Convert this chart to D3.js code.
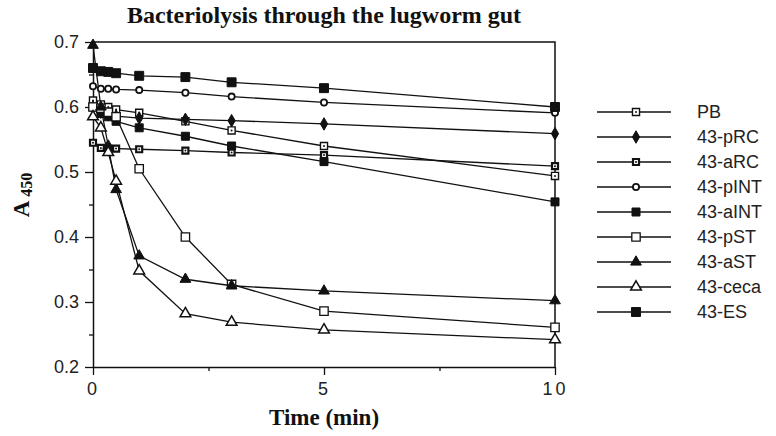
<!DOCTYPE html>
<html>
<head>
<meta charset="utf-8">
<script src="https://cdn.jsdelivr.net/npm/d3@7"></script>
<style>
  body { margin: 0; background: #fff; }
  svg { display: block; }
</style>
</head>
<body>
<div id="chart"></div>
<script>
// Data (time in min, A450)
var time = [0, 0.17, 0.33, 0.5, 1, 2, 3, 5, 10];
var PB   = [0.610, 0.604, 0.600, 0.596, 0.591, 0.578, 0.564, 0.540, 0.494];
var pRC  = [0.600, 0.592, 0.588, 0.586, 0.583, 0.581, 0.579, 0.574, 0.559];
var aRC  = [0.545, 0.537, 0.536, 0.536, 0.535, 0.533, 0.530, 0.526, 0.509];
var pINT = [0.632, 0.628, 0.628, 0.627, 0.626, 0.622, 0.616, 0.607, 0.591];
var aINT = [0.600, 0.590, 0.585, 0.578, 0.568, 0.555, 0.540, 0.516, 0.454];
var pST  = [0.600, 0.598, 0.592, 0.585, 0.505, 0.400, 0.327, 0.286, 0.261];
var aST  = [0.695, 0.600, 0.540, 0.473, 0.371, 0.335, 0.325, 0.317, 0.302];
var ceca = [0.585, 0.568, 0.530, 0.486, 0.348, 0.282, 0.269, 0.257, 0.242];
var ES   = [0.660, 0.655, 0.654, 0.652, 0.648, 0.646, 0.638, 0.629, 0.600];

var seriesNames = ["PB", "43-pRC", "43-aRC", "43-pINT", "43-aINT", "43-pST", "43-aST", "43-ceca", "43-ES"];
var seriesValues = [PB, pRC, aRC, pINT, aINT, pST, aST, ceca, ES];
var xTicks = [0, 5, 10];
var xMinor = [2.5, 7.5];
var yTicks = [0.2, 0.3, 0.4, 0.5, 0.6, 0.7];
var yMinor = [0.25, 0.35, 0.45, 0.55, 0.65];

// marker style per series
var markers = [
  {shape: d3.symbolSquare,   size: 50, fill: "#fff", sw: 1.4, dot: true},   // PB
  {shape: d3.symbolDiamond,  size: 45, fill: "#111", sw: 1,   dot: false},  // pRC
  {shape: d3.symbolSquare,   size: 36, fill: "#fff", sw: 2.2, dot: true},   // aRC
  {shape: d3.symbolCircle,   size: 30, fill: "#fff", sw: 1.8, dot: false},  // pINT
  {shape: d3.symbolSquare,   size: 64, fill: "#111", sw: 1,   dot: false},  // aINT
  {shape: d3.symbolSquare,   size: 70, fill: "#fff", sw: 1.3, dot: false},  // pST
  {shape: d3.symbolTriangle, size: 50, fill: "#111", sw: 1,   dot: false},  // aST
  {shape: d3.symbolTriangle, size: 50, fill: "#fff", sw: 1.5, dot: false},  // ceca
  {shape: d3.symbolSquare,   size: 80, fill: "#111", sw: 1,   dot: false}   // ES
];

var margin = {top: 42, left: 93},
    width = 462,
    height = 325;

var svg = d3.select("#chart").append("svg")
    .attr("width", 776)
    .attr("height", 436);

var g = svg.append("g")
    .attr("transform", "translate(" + margin.left + "," + margin.top + ")");

var x = d3.scaleLinear().domain([0, 10]).range([0, width]);
var y = d3.scaleLinear().domain([0.2, 0.7]).range([height, 0]);

// Title
svg.append("text")
    .attr("x", margin.left + width / 2)
    .attr("y", 23)
    .attr("text-anchor", "middle")
    .style("font-family", "'Liberation Serif', 'Times New Roman', serif")
    .style("font-weight", "bold")
    .style("font-size", "24px")
    .attr("fill", "#111")
    .text("Bacteriolysis through the lugworm gut");

// frame (top and right)
g.append("path")
    .attr("d", "M0,0H" + width + "V" + height)
    .attr("fill", "none")
    .attr("stroke", "#111")
    .attr("stroke-width", 1.5);

// x axis
var xAxis = g.append("g")
    .attr("transform", "translate(0," + height + ")")
    .call(d3.axisBottom(x).tickValues(xTicks).tickSize(8).tickPadding(7).tickSizeOuter(0).tickFormat(d3.format("d")));
g.append("g")
    .attr("transform", "translate(0," + height + ")")
    .call(d3.axisBottom(x).tickValues(xMinor).tickSize(4).tickSizeOuter(0).tickFormat(""))
    .select(".domain").remove();

// y axis
var yAxis = g.append("g")
    .call(d3.axisLeft(y).tickValues(yTicks).tickSize(8).tickPadding(6).tickSizeOuter(0).tickFormat(d3.format(".1f")));
g.append("g")
    .call(d3.axisLeft(y).tickValues(yMinor).tickSize(4).tickSizeOuter(0).tickFormat(""))
    .select(".domain").remove();

g.selectAll(".domain").attr("stroke", "#111").attr("stroke-width", 1.5);
g.selectAll(".tick line").attr("stroke", "#111").attr("stroke-width", 1.3);
g.selectAll(".tick text")
    .style("font-family", "'Liberation Sans', Arial, sans-serif")
    .style("font-size", "18px")
    .attr("fill", "#222");
xAxis.selectAll(".tick text").style("letter-spacing", "3px");

// axis titles
svg.append("text")
    .attr("x", margin.left + width / 2)
    .attr("y", 425)
    .attr("text-anchor", "middle")
    .style("font-family", "'Liberation Serif', 'Times New Roman', serif")
    .style("font-weight", "bold")
    .style("font-size", "23px")
    .attr("fill", "#111")
    .text("Time (min)");

var yl = svg.append("text")
    .attr("transform", "translate(29,195) rotate(-90)")
    .attr("text-anchor", "middle")
    .style("font-family", "'Liberation Serif', 'Times New Roman', serif")
    .style("font-weight", "bold")
    .attr("fill", "#111");
yl.append("tspan").style("font-size", "23px").text("A");
yl.append("tspan").attr("dx", 4).attr("dy", 3).style("font-size", "16px").text("450");

// lines
var line = d3.line()
    .x(function(d, i) { return x(time[i]); })
    .y(function(d) { return y(d); });

seriesValues.forEach(function(vals, k) {
  g.append("path")
      .datum(vals)
      .attr("d", line)
      .attr("fill", "none")
      .attr("stroke", "#111")
      .attr("stroke-width", 1.3);
});

// draw one marker
function drawMarker(sel, m, px, py) {
  sel.append("path")
      .attr("transform", "translate(" + px + "," + py + ")")
      .attr("d", d3.symbol().type(m.shape).size(m.size)())
      .attr("fill", m.fill)
      .attr("stroke", "#111")
      .attr("stroke-width", m.sw);
  if (m.dot) {
    sel.append("circle")
        .attr("cx", px).attr("cy", py).attr("r", 1)
        .attr("fill", "#111");
  }
}

seriesValues.forEach(function(vals, k) {
  vals.forEach(function(v, i) {
    drawMarker(g, markers[k], x(time[i]), y(v));
  });
});

// legend
var legend = svg.append("g");
seriesNames.forEach(function(name, k) {
  var ly = 112 + k * 25;
  legend.append("line")
      .attr("x1", 597).attr("x2", 671)
      .attr("y1", ly).attr("y2", ly)
      .attr("stroke", "#111")
      .attr("stroke-width", 1.3);
  drawMarker(legend, markers[k], 636, ly);
  legend.append("text")
      .attr("x", 697)
      .attr("y", ly + 6)
      .style("font-family", "'Liberation Sans', Arial, sans-serif")
      .style("font-size", "18px")
      .attr("fill", "#222")
      .text(name);
});
</script>
</body>
</html>
